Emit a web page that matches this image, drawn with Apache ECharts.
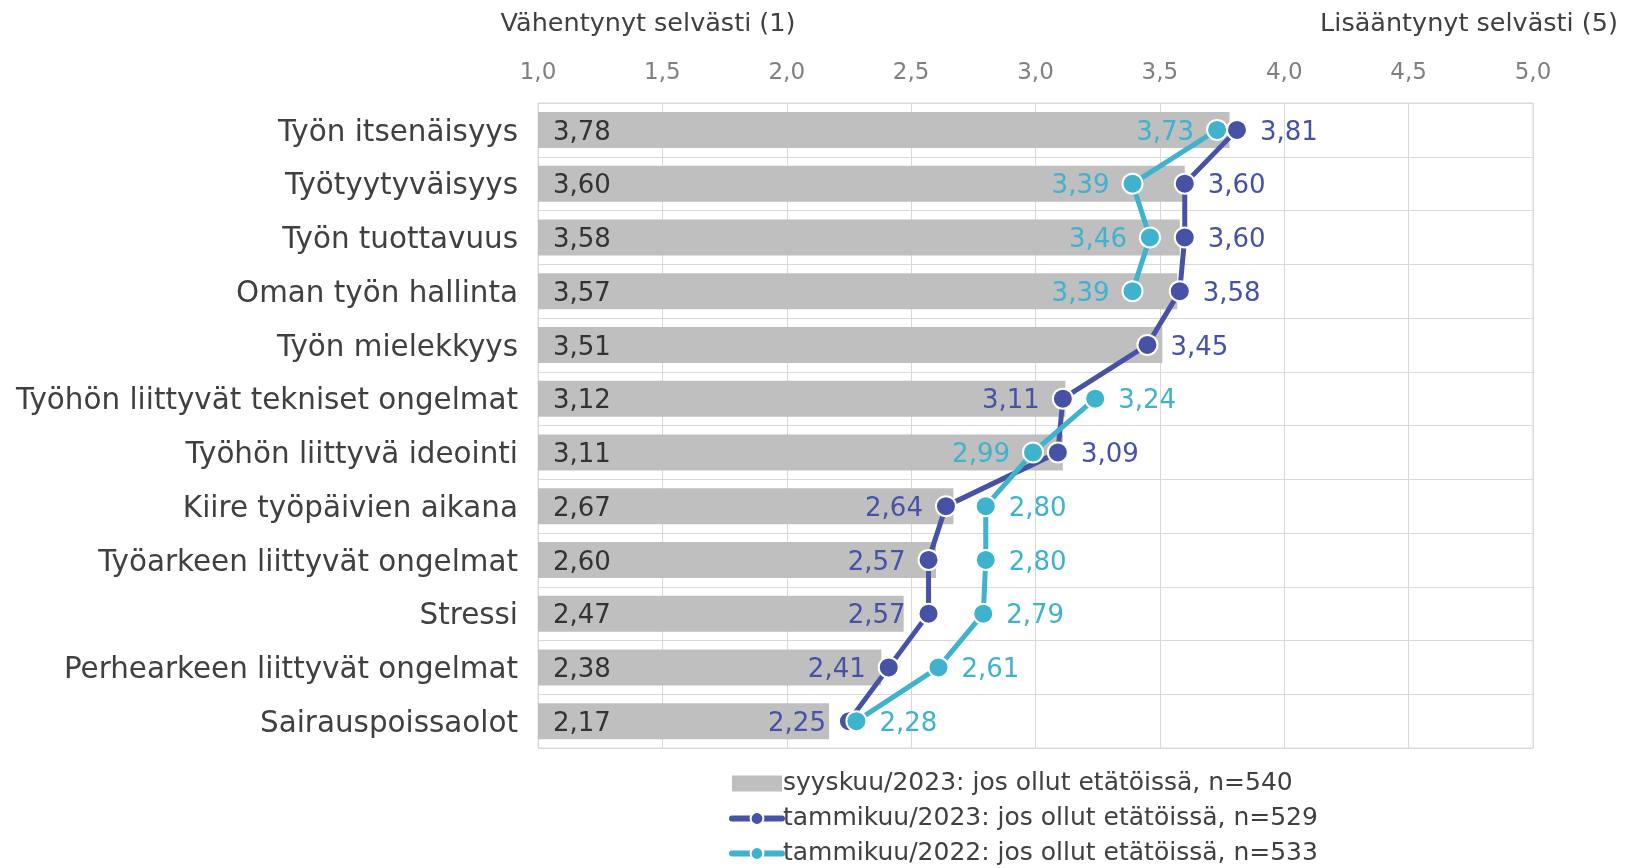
<!DOCTYPE html>
<html>
<head>
<meta charset="utf-8">
<script src="https://cdn.jsdelivr.net/npm/echarts@6/dist/echarts.min.js"></script>
<style>
html,body{margin:0;padding:0;background:#fff;}
#chart{width:1625px;height:868px;}
</style>
</head>
<body>
<div id="chart"></div>
<script>
const categories = [
  "Työn itsenäisyys",
  "Työtyytyväisyys",
  "Työn tuottavuus",
  "Oman työn hallinta",
  "Työn mielekkyys",
  "Työhön liittyvät tekniset ongelmat",
  "Työhön liittyvä ideointi",
  "Kiire työpäivien aikana",
  "Työarkeen liittyvät ongelmat",
  "Stressi",
  "Perhearkeen liittyvät ongelmat",
  "Sairauspoissaolot"
];
const sep2023 = [3.78, 3.60, 3.58, 3.57, 3.51, 3.12, 3.11, 2.67, 2.60, 2.47, 2.38, 2.17];
const jan2023 = [3.81, 3.60, 3.60, 3.58, 3.45, 3.11, 3.09, 2.64, 2.57, 2.57, 2.41, 2.25];
const jan2022 = [3.73, 3.39, 3.46, 3.39, null, 3.24, 2.99, 2.80, 2.80, 2.79, 2.61, 2.28];
const seriesNames = [
  "syyskuu/2023: jos ollut etätöissä, n=540",
  "tammikuu/2023: jos ollut etätöissä, n=529",
  "tammikuu/2022: jos ollut etätöissä, n=533"
];
const axisTitles = ["Vähentynyt selvästi (1)", "Lisääntynyt selvästi (5)"];

// label placement (style): indices whose labels sit on the left of the point
const darkLeft = [5, 7, 8, 9, 10, 11];
const cyanLeft = [0, 1, 2, 3, 6];

const FONT = "DejaVu Sans";
const fmt = v => v.toFixed(2).replace('.', ',');
const DARK = '#4652A6';
const CYAN = '#3FB2CD';

function lineData(values, leftIdx) {
  return values.map((v, i) => ({
    value: v,
    label: { position: leftIdx.indexOf(i) >= 0 ? 'left' : 'right' }
  }));
}

const chart = echarts.init(document.getElementById('chart'));
chart.setOption({
  animation: false,
  textStyle: { fontFamily: FONT },
  grid: { left: 538, right: 92, top: 103, bottom: 120, show: true, borderColor: '#d9d9d9', borderWidth: 1 },
  xAxis: {
    type: 'value', position: 'top', min: 1, max: 5, interval: 0.5,
    axisLine: { show: false }, axisTick: { show: false },
    axisLabel: { color: '#808080', fontSize: 23, fontFamily: FONT, margin: 18,
      formatter: v => v.toFixed(1).replace('.', ',') },
    splitLine: { show: true, lineStyle: { color: '#d9d9d9', width: 1 } }
  },
  yAxis: {
    type: 'category', data: categories, inverse: true,
    axisLine: { show: false }, axisTick: { show: false },
    axisLabel: { color: '#404040', fontSize: 29.4, fontFamily: FONT, margin: 20, verticalAlign: 'top', lineHeight: 6 },
    splitLine: { show: true, lineStyle: { color: '#d9d9d9', width: 1 } }
  },
  legend: {
    orient: 'vertical', left: 729, top: 771, height: 110, itemGap: 10, padding: 0,
    itemWidth: 50, itemHeight: 16,
    textStyle: { color: '#404040', fontSize: 25, fontFamily: FONT, padding: [0, 0, 0, -4] },
    data: [
      { name: seriesNames[0], icon: 'rect' },
      { name: seriesNames[1], lineStyle: { width: 6, cap: 'round' } },
      { name: seriesNames[2], lineStyle: { width: 6, cap: 'round' } }
    ]
  },
  graphic: [
    { type: 'text', x: 648, y: 24, style: { text: axisTitles[0], font: '25.5px "DejaVu Sans"', fill: '#404040', align: 'center', verticalAlign: 'middle' } },
    { type: 'text', x: 1469, y: 24, style: { text: axisTitles[1], font: '25.5px "DejaVu Sans"', fill: '#404040', align: 'center', verticalAlign: 'middle' } }
  ],
  series: [
    {
      name: seriesNames[0], type: 'bar', data: sep2023, barWidth: 36,
      itemStyle: { color: '#BFBFBF' },
      label: { show: true, position: 'insideLeft', distance: 15, offset: [0, 3], color: '#333333', fontSize: 26, fontFamily: FONT, formatter: p => fmt(p.value) },
      z: 1
    },
    {
      name: seriesNames[1], type: 'line', data: lineData(jan2023, darkLeft),
      symbol: 'circle', symbolSize: 20, connectNulls: false,
      lineStyle: { color: DARK, width: 5 },
      itemStyle: { color: DARK, borderColor: '#fff', borderWidth: 2 },
      label: { show: true, distance: 12, offset: [0, 3], color: DARK, fontSize: 26, fontFamily: FONT, formatter: p => fmt(p.value) },
      z: 3
    },
    {
      name: seriesNames[2], type: 'line', data: lineData(jan2022, cyanLeft),
      symbol: 'circle', symbolSize: 20, connectNulls: false,
      lineStyle: { color: CYAN, width: 5 },
      itemStyle: { color: CYAN, borderColor: '#fff', borderWidth: 2 },
      label: { show: true, distance: 12, offset: [0, 3], color: CYAN, fontSize: 26, fontFamily: FONT, formatter: p => fmt(p.value) },
      z: 4
    }
  ]
});
</script>
</body>
</html>
